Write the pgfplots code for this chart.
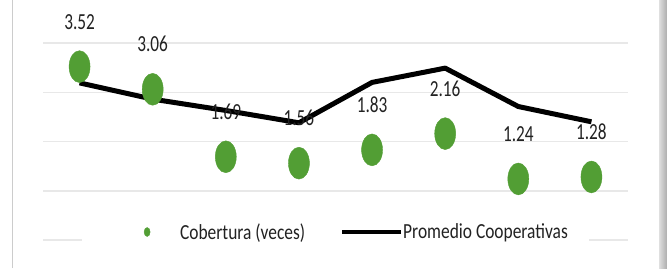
\documentclass[border=0pt]{standalone}
\usepackage{pgfplots}
\pgfplotsset{compat=1.18}
\usepackage{fontspec}
\setmainfont{Carlito}[FakeStretch=0.75]
\newfontfamily\legfont{Carlito}[FakeStretch=0.81]
\definecolor{mgreen}{RGB}{82,158,52}
\definecolor{gridgray}{RGB}{232,232,232}
\definecolor{txt}{RGB}{34,34,34}
\begin{document}
\begin{tikzpicture}
\useasboundingbox (0,0) rectangle (667pt,268pt);
\fill[white] (0,0) rectangle (667pt,268pt);
\draw[line width=1.5pt, gray!40] (12.5pt,0) -- (12.5pt,268pt);
\shade[left color=gray!25, right color=gray!65] (659pt,0) rectangle (667pt,268pt);
\begin{axis}[
  at={(43pt,28pt)}, anchor=south west,
  scale only axis, width=585pt, height=197pt,
  xmin=0.5, xmax=8.5, ymin=0, ymax=4,
  axis line style={draw=none},
  major tick length=0pt,
  xtick=\empty,
  ytick={0,1,2,3,4}, yticklabels={},
  ymajorgrids, grid style={gridgray, line width=1.5pt},
  clip=false,
  legend columns=2,
  legend style={at={(0.5,0.0406)}, anchor=center, draw=none, fill=white,
    inner xsep=21pt, inner ysep=8pt, font=\legfont\fontsize{21.5}{24}\selectfont, text=txt,
    nodes={inner sep=0pt},
    /tikz/every even column/.append style={column sep=35pt}},
]
\addlegendimage{legend image code/.code={\path[draw=none, fill=none] (-44pt,0) -- (33pt,0);
     \fill[mgreen] (0,0) ellipse [x radius=3pt, y radius=4.5pt];}}
\addlegendentry{Cobertura (veces)}
\addlegendimage{legend image code/.code={\draw[black, line width=4pt] (0,0) -- (59pt,0);}}
\addlegendentry{Promedio Cooperativas}
\addplot[forget plot, black, line width=5pt, line join=round, no marks]
coordinates {
(1,3.19) (2,2.86) (3,2.63) (4,2.38) (5,3.20) (6,3.49) (7,2.71) (8,2.40)
};
\addplot[forget plot, color=mgreen, only marks, mark=*, mark size=10.5pt,
  mark options={fill=mgreen, draw=mgreen, yscale=1.52},
  nodes near coords, point meta=explicit symbolic,
  every node near coord/.append style={anchor=center, yshift=45pt,
     font=\fontsize{23}{26}\selectfont, text=txt}]
coordinates {
(1,3.52) [3.52]
(2,3.06) [3.06]
(3,1.69) [1.69]
(4,1.56) [1.56]
(5,1.83) [1.83]
(6,2.16) [2.16]
(7,1.24) [1.24]
(8,1.28) [1.28]
};
\end{axis}
\end{tikzpicture}
\end{document}
